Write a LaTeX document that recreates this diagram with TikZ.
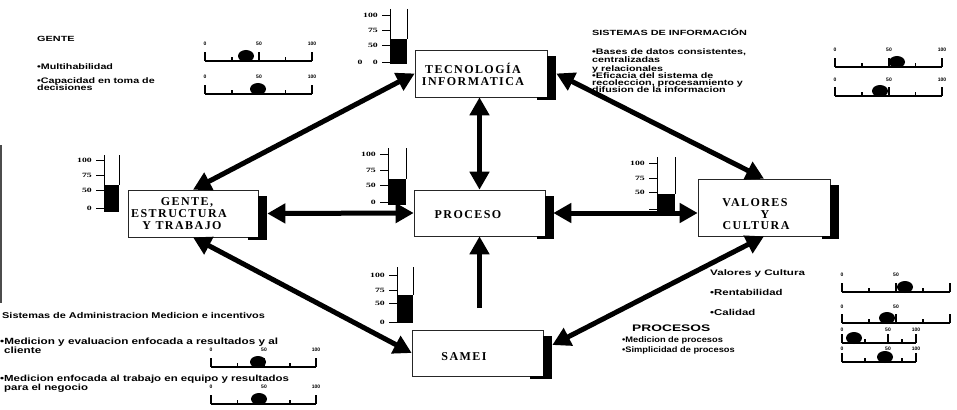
\documentclass[tikz,border=0pt]{standalone}
\usepackage{fontspec}
\usepackage{graphicx}
\setmainfont{Liberation Serif}
\newfontfamily\boxfont[LetterSpace=12, BoldFeatures={LetterSpace=12}]{Liberation Serif}
\newfontfamily\gaugefont{Liberation Serif}
\newfontfamily\rulefont{Liberation Sans}
\usetikzlibrary{arrows.meta,calc}

\newcommand{\wide}[2]{\scalebox{#1}[1]{#2}}

\tikzset{
  box/.style={draw=black!85, line width=0.6pt, fill=white, inner sep=0pt},
  boxtxt/.style={font=\boxfont\bfseries\fontsize{12}{12}\selectfont, inner sep=0pt},
  lbl/.style={anchor=west, inner sep=0pt},
  ttl/.style={lbl, font=\rulefont\bfseries\fontsize{7.5}{7.5}\selectfont},
  body/.style={lbl, font=\rulefont\bfseries\fontsize{8}{8}\selectfont},
  bigarrow/.style={line width=5pt, {Triangle[length=18pt,width=19pt]}-{Triangle[length=18pt,width=19pt]}},
  onearrow/.style={line width=5pt, -{Triangle[length=18pt,width=19pt]}},
  gline/.style={line width=0.9pt},
  glbl/.style={anchor=east, inner sep=0pt, font=\gaugefont\bfseries\fontsize{6.5}{6.5}\selectfont},
  rline/.style={line width=1.6pt},
  rlbl/.style={inner sep=0pt, font=\rulefont\bfseries\fontsize{5}{5}\selectfont},
}

% gauge tick with label: name, axis x, y, text
\newcommand{\gtick}[4]{%
  \draw[gline] (#2-8,#3) -- (#2,#3);
  \node[glbl] (#1) at (#2-12,#3) {\wide{1.5}{#4}};
}
% gauge bar: axis x, right x, top y, fill top, fill bottom
\newcommand{\gbar}[5]{%
  \fill (#1,#4) rectangle (#2,#5);
  \draw[gline] (#1,#3) -- (#1,#5);
  \draw[gline] (#2,#3) -- (#2,#4);
}
% ruler: name, x0, x50, x100, yline, dot x, label y
\newcommand{\rulerbar}[7]{%
  \draw[rline] (#2,#5) -- (#4,#5);
  \draw[rline] (#2,#5) -- (#2,#5-9);
  \draw[rline] (#3,#5) -- (#3,#5-9);
  \draw[rline] (#4,#5) -- (#4,#5-9);
  \draw[rline] ({(#2+#3)/2},#5) -- ({(#2+#3)/2},#5-4);
  \draw[rline] ({(#3+#4)/2},#5) -- ({(#3+#4)/2},#5-4);
  \fill (#6,#5-5) ellipse [x radius=8pt, y radius=6pt];
  \node[rlbl] (#1z) at (#2,#7) {0};
  \node[rlbl] (#1h) at (#3,#7) {50};
}
% box shadow: node, bottom strip length
\newcommand{\boxshade}[2]{%
  \fill ([yshift=-6pt]#1.north east) rectangle ([xshift=8.5pt,yshift=-3pt]#1.south east);
  \fill ([xshift=-#2]#1.south east) rectangle ([xshift=8.5pt,yshift=-3pt]#1.south east);
}

\begin{document}
\begin{tikzpicture}[x=1pt,y=-1pt]
\useasboundingbox[fill=white] (0,0) rectangle (957,409);

% left edge line
\draw[line width=1.5pt, black!70] (1,145) -- (1,303);

% ---------- text blocks ----------
\node[ttl] (gt) at (37,39) {\wide{1.45}{GENTE}};
\node[body] (g1) at (37,67) {\wide{1.34}{•Multihabilidad}};
\node[body] (g2) at (37,81) {\wide{1.34}{•Capacidad en toma de}};
\node[body] (g3) at (37,88) {\wide{1.34}{decisiones}};

\node[ttl] (st) at (592,32) {\wide{1.45}{SISTEMAS DE INFORMACIÓN}};
\node[body] (s1) at (592,52) {\wide{1.34}{•Bases de datos consistentes,}};
\node[body] (s2) at (592,60) {\wide{1.34}{centralizadas}};
\node[body] (s3) at (592,69) {\wide{1.34}{y relacionales}};
\node[body] (s4) at (592,76) {\wide{1.34}{•Eficacia del sistema de}};
\node[body] (s5) at (592,83) {\wide{1.34}{recoleccion, procesamiento y}};
\node[body] (s6) at (592,90) {\wide{1.34}{difusion de la informacion}};

\node[lbl, font=\rulefont\bfseries\fontsize{8.4}{8.4}\selectfont] (bt) at (2,315) {\wide{1.3}{Sistemas de Administracion Medicion e incentivos}};
\node[lbl, font=\rulefont\bfseries\fontsize{9}{9}\selectfont] (b1) at (0,342) {\wide{1.3}{•Medicion y evaluacion enfocada a resultados y al}};
\node[lbl, font=\rulefont\bfseries\fontsize{9}{9}\selectfont] (b2) at (4,350) {\wide{1.3}{cliente}};
\node[lbl, font=\rulefont\bfseries\fontsize{8.8}{8.8}\selectfont] (b3) at (0,379) {\wide{1.3}{•Medicion enfocada al trabajo en equipo y resultados}};
\node[lbl, font=\rulefont\bfseries\fontsize{8.8}{8.8}\selectfont] (b4) at (4,388) {\wide{1.3}{para el negocio}};

\node[lbl, font=\rulefont\bfseries\fontsize{8}{8}\selectfont] (vt) at (710,273) {\wide{1.45}{Valores y Cultura}};
\node[lbl, font=\rulefont\bfseries\fontsize{8.5}{8.5}\selectfont] (v1) at (710,292) {\wide{1.34}{•Rentabilidad}};
\node[lbl, font=\rulefont\bfseries\fontsize{8.5}{8.5}\selectfont] (v2) at (710,312) {\wide{1.34}{•Calidad}};

\node[lbl, font=\rulefont\bfseries\fontsize{9.5}{9.5}\selectfont] (pt) at (632,328) {\wide{1.45}{PROCESOS}};
\node[lbl, font=\rulefont\bfseries\fontsize{8}{8}\selectfont] (p1) at (622,340) {\wide{1.16}{•Medicion de procesos}};
\node[lbl, font=\rulefont\bfseries\fontsize{8}{8}\selectfont] (p2) at (622,350) {\wide{1.16}{•Simplicidad de procesos}};

% ---------- rulers ----------
\rulerbar{ra}{205}{259}{312}{61}{246}{44}
\node[rlbl] (rac) at (312,44) {100};
\rulerbar{rb}{205}{259}{312}{94}{258}{77}
\node[rlbl] (rbc) at (312,77) {100};
\rulerbar{rc}{835}{889}{942}{67}{897}{50}
\node[rlbl] (rcc) at (942,50) {100};
\rulerbar{rd}{835}{889}{942}{96}{880}{80}
\node[rlbl] (rdc) at (942,80) {100};
\rulerbar{re}{211}{264}{316}{367}{258}{350}
\node[rlbl] (rec) at (316,350) {100};
\rulerbar{rf}{211}{264}{316}{404}{259}{387}
\node[rlbl] (rfc) at (316,387) {100};
\rulerbar{rg}{842}{896}{950}{292}{905}{275}
\rulerbar{rh}{842}{896}{950}{323}{887}{307}
\rulerbar{ri}{842}{888}{916}{343}{854}{330}
\node[rlbl] (ric) at (916,330) {100};
\rulerbar{rj}{842}{888}{916}{362}{885}{349}
\node[rlbl] (rjc) at (916,349) {100};

% ---------- gauges ----------
\gbar{390}{407}{9}{39}{64}
\gtick{ga1}{390}{15}{100}
\gtick{ga2}{390}{30}{75}
\gtick{ga3}{390}{45}{50}
\gtick{ga4}{390}{62}{0}
\node[glbl, anchor=center] (ga5) at (360,62) {\wide{1.5}{0}};

\gbar{104}{119}{155}{185}{212}
\gtick{gb1}{104}{160}{100}
\gtick{gb2}{104}{175}{75}
\gtick{gb3}{104}{190}{50}
\gtick{gb4}{104}{208}{0}

\gbar{388}{406}{148}{179}{205}
\gtick{gc1}{388}{154}{100}
\gtick{gc2}{388}{170}{75}
\gtick{gc3}{388}{185}{50}
\gtick{gc4}{388}{202}{0}

\gbar{657}{675}{157}{194}{214}
\gtick{gd1}{657}{163}{100}
\gtick{gd2}{657}{178}{75}
\gtick{gd3}{657}{192}{50}
\draw[gline] (649,209) -- (657,209);

\gbar{397}{413}{267}{295}{323}
\gtick{ge1}{397}{275}{100}
\gtick{ge2}{397}{290}{75}
\gtick{ge3}{397}{303}{50}
\gtick{ge4}{397}{322}{0}

% ---------- boxes ----------
\node[box, minimum width=132pt, minimum height=47pt] (tec) at (481,73.5) {};
\node[box, minimum width=130pt, minimum height=47pt] (gente) at (193,213.5) {};
\node[box, minimum width=131pt, minimum height=46pt] (proceso) at (479.5,213) {};
\node[box, minimum width=132pt, minimum height=57pt] (valores) at (764,207.5) {};
\node[box, minimum width=131pt, minimum height=46pt] (samei) at (477.5,353) {};

\boxshade{tec}{10pt}
\boxshade{gente}{10pt}
\boxshade{proceso}{8pt}
\boxshade{valores}{8pt}
\boxshade{samei}{13pt}

\node[boxtxt] (tecA) at (473,68) {TECNOLOGÍA};
\node[boxtxt] (tecB) at (473,82) {INFORMATICA};
\node[boxtxt] (genA) at (187,202) {GENTE,};
\node[boxtxt] (genB) at (179,214) {ESTRUCTURA};
\node[boxtxt] (genC) at (182,226) {Y TRABAJO};
\node[boxtxt] (proA) at (468,215) {PROCESO};
\node[boxtxt] (valA) at (755,203) {VALORES};
\node[boxtxt] (valB) at (765,215) {Y};
\node[boxtxt] (valC) at (756,226) {CULTURA};
\node[boxtxt] (samA) at (464,357) {SAMEI};

% ---------- arrows ----------
\coordinate (sameitail) at (479.5,308);
\draw[bigarrow] (gente.north) -- (tec.west);
\draw[bigarrow] ([xshift=9pt]tec.east) -- (valores.north);
\draw[bigarrow] (tec.south -| proceso.north) -- (proceso.north);
\draw[bigarrow] ([xshift=9pt]gente.east) -- (proceso.west);
\draw[bigarrow] ([xshift=8pt]proceso.east) -- (proceso.east -| valores.west);
\draw[onearrow] (sameitail) -- (proceso.south);
\draw[bigarrow] (gente.south) -- (samei.west);
\draw[bigarrow] (valores.south) -- ([xshift=9pt,yshift=8pt]samei.east);
\end{tikzpicture}
\end{document}
